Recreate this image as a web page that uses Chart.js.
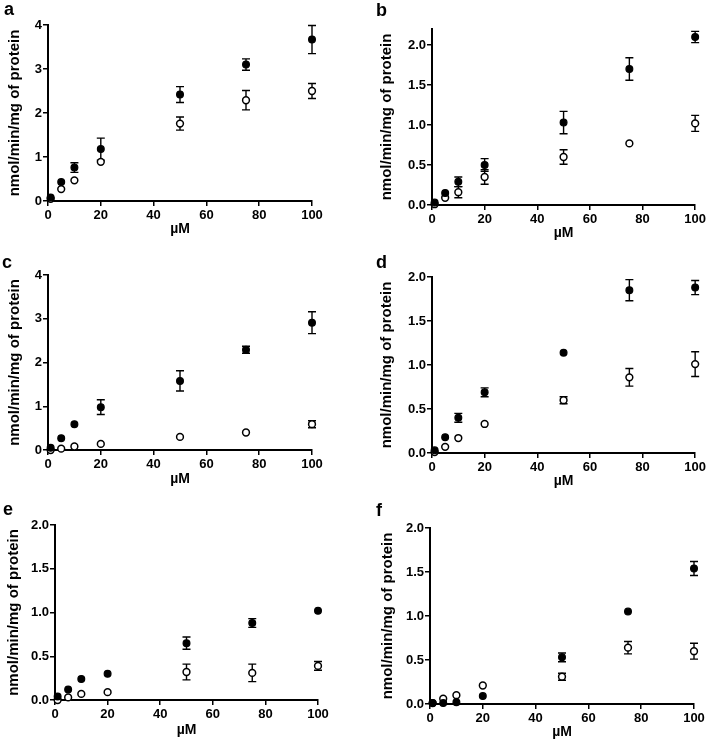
<!DOCTYPE html>
<html>
<head>
<meta charset="utf-8">
<script src="https://cdn.jsdelivr.net/npm/chart.js@4.4.1/dist/chart.umd.min.js"></script>
<style>
  body { margin: 0; width: 708px; height: 749px; overflow: hidden; background: #fff; position: relative;
         font-family: "Liberation Sans", Arial, sans-serif; }
  .panel { position: absolute; width: 354px; height: 250px; }
  .letter { position: absolute; font-weight: bold; font-size: 18px; line-height: 18px; }
</style>
</head>
<body>
<div class="panel" style="left:0;top:0"><canvas id="chartA"></canvas></div>
<div class="panel" style="left:354px;top:0"><canvas id="chartB"></canvas></div>
<div class="panel" style="left:0;top:250px"><canvas id="chartC"></canvas></div>
<div class="panel" style="left:354px;top:250px"><canvas id="chartD"></canvas></div>
<div class="panel" style="left:0;top:500px"><canvas id="chartE"></canvas></div>
<div class="panel" style="left:354px;top:500px"><canvas id="chartF"></canvas></div>
<div class="letter" style="left:4px;top:0">a</div>
<div class="letter" style="left:376px;top:1px">b</div>
<div class="letter" style="left:2px;top:253px">c</div>
<div class="letter" style="left:376px;top:253px">d</div>
<div class="letter" style="left:3px;top:500px">e</div>
<div class="letter" style="left:376px;top:501px">f</div>
<script>
// substrate concentration (µM), same for every panel
const conc = [1, 5, 10, 20, 50, 75, 100];
const xTicks = [0, 20, 40, 60, 80, 100];

// panel a
const aFilled = [0.08, 0.43, 0.76, 1.18, 2.42, 3.10, 3.67];
const aFilledErr = [0, 0, 0.11, 0.25, 0.18, 0.13, 0.32];
const aOpen = [0.05, 0.27, 0.47, 0.89, 1.76, 2.29, 2.50];
const aOpenErr = [0, 0, 0, 0, 0.15, 0.22, 0.17];
const aTicks = [0, 1, 2, 3, 4];

// panel b
const bFilled = [0.03, 0.15, 0.29, 0.50, 1.03, 1.70, 2.10];
const bFilledErr = [0, 0, 0.06, 0.08, 0.14, 0.14, 0.07];
const bOpen = [0.01, 0.09, 0.16, 0.35, 0.60, 0.77, 1.02];
const bOpenErr = [0, 0, 0.07, 0.09, 0.09, 0, 0.10];
const bTicks = [0, 0.5, 1.0, 1.5, 2.0];

// panel c
const cFilled = [0.05, 0.27, 0.59, 0.98, 1.58, 2.29, 2.91];
const cFilledErr = [0, 0, 0, 0.17, 0.23, 0.08, 0.25];
const cOpen = [0.0, 0.03, 0.08, 0.14, 0.30, 0.40, 0.59];
const cOpenErr = [0, 0, 0, 0, 0, 0, 0.08];
const cTicks = [0, 1, 2, 3, 4];

// panel d
const dFilled = [0.03, 0.18, 0.40, 0.69, 1.14, 1.85, 1.88];
const dFilledErr = [0, 0, 0.05, 0.05, 0, 0.12, 0.08];
const dOpen = [0.01, 0.07, 0.17, 0.33, 0.60, 0.86, 1.01];
const dOpenErr = [0, 0, 0, 0, 0.04, 0.10, 0.14];
const dTicks = [0, 0.5, 1.0, 1.5, 2.0];

// panel e
const eFilled = [0.04, 0.12, 0.24, 0.30, 0.65, 0.88, 1.02];
const eFilledErr = [0, 0, 0, 0, 0.07, 0.05, 0];
const eOpen = [0.0, 0.03, 0.07, 0.09, 0.32, 0.31, 0.39];
const eOpenErr = [0, 0, 0, 0, 0.09, 0.10, 0.05];
const eTicks = [0, 0.5, 1.0, 1.5, 2.0];

// panel f
const fFilled = [0.01, 0.01, 0.02, 0.09, 0.53, 1.05, 1.54];
const fFilledErr = [0, 0, 0, 0, 0.05, 0, 0.08];
const fOpen = [0.01, 0.06, 0.10, 0.21, 0.31, 0.64, 0.60];
const fOpenErr = [0, 0, 0, 0, 0.04, 0.07, 0.09];
const fTicks = [0, 0.5, 1.0, 1.5, 2.0];

const yTitle = 'nmol/min/mg of protein';
const xTitle = 'µM';
const FONT = '"Liberation Sans", Arial, sans-serif';

// plot-area box inside each 354x250 canvas (left, right, top, bottom) + title positions
const boxes = {
  A: { l: 48, r: 312, t: 25, b: 201, ytx: 15, xty: 229, yMax: 4 },
  B: { l: 78, r: 342, t: 29, b: 205, ytx: 33, xty: 233, yMax: 2.2 },
  C: { l: 48, r: 312, t: 25, b: 200, ytx: 15, xty: 229, yMax: 4 },
  D: { l: 78, r: 342, t: 27, b: 203, ytx: 33, xty: 231, yMax: 2 },
  E: { l: 55, r: 318, t: 25, b: 200, ytx: 14, xty: 230, yMax: 2 },
  F: { l: 76, r: 340, t: 28, b: 204, ytx: 34, xty: 232, yMax: 2 }
};

// draws vertical error bars with caps, under the points
const errorBars = {
  id: 'errorBars',
  beforeDatasetsDraw(chart) {
    const ctx = chart.ctx;
    const xs = chart.scales.x, ys = chart.scales.y;
    ctx.save();
    ctx.strokeStyle = '#000';
    ctx.lineWidth = 1.4;
    chart.data.datasets.forEach(ds => {
      ds.errors.forEach((e, i) => {
        if (!e) return;
        const p = ds.data[i];
        const px = xs.getPixelForValue(p.x);
        const top = ys.getPixelForValue(p.y + e);
        const bot = ys.getPixelForValue(p.y - e);
        ctx.beginPath();
        ctx.moveTo(px, top); ctx.lineTo(px, bot);
        ctx.moveTo(px - 4, top); ctx.lineTo(px + 4, top);
        ctx.moveTo(px - 4, bot); ctx.lineTo(px + 4, bot);
        ctx.stroke();
      });
    });
    ctx.restore();
  }
};

function toPoints(vals) {
  return vals.map((v, i) => ({ x: conc[i], y: v }));
}

function makeChart(key, filled, filledErr, open, openErr, yTicks, decimals) {
  const bx = boxes[key];
  const yTitleFont = 15, xTitleFont = 14;
  const padLeft = bx.ytx - yTitleFont * 1.2 / 2;
  const xBottom = bx.xty + xTitleFont * 1.2 / 2;
  const axisLine = { color: '#000', width: 2 };
  const tickGrid = { drawOnChartArea: false, drawTicks: true, tickLength: 5, color: '#000', lineWidth: 1.5 };
  const tickFont = { family: FONT, size: 13, weight: 'bold' };

  return new Chart(document.getElementById('chart' + key), {
    type: 'scatter',
    data: {
      datasets: [
        { data: toPoints(filled), errors: filledErr, pointRadius: 3.4, pointHoverRadius: 3.4,
          backgroundColor: '#000', borderColor: '#000', borderWidth: 1.2, clip: false },
        { data: toPoints(open), errors: openErr, pointRadius: 3.4, pointHoverRadius: 3.4,
          backgroundColor: '#fff', borderColor: '#000', borderWidth: 1.5, clip: false }
      ]
    },
    options: {
      responsive: false,
      animation: false,
      events: [],
      layout: { padding: { left: padLeft, right: 354 - bx.r, top: bx.t, bottom: 250 - xBottom } },
      plugins: { legend: { display: false }, tooltip: { enabled: false } },
      scales: {
        x: {
          type: 'linear', min: 0, max: 100,
          border: axisLine, grid: tickGrid,
          afterBuildTicks: s => { s.ticks = xTicks.map(v => ({ value: v })); },
          afterFit: s => { s.height = xBottom - bx.b; },
          ticks: { color: '#000', font: tickFont, padding: 2, maxRotation: 0 },
          title: { display: true, text: xTitle, color: '#000', padding: 0,
                   font: { family: FONT, size: xTitleFont, weight: 'bold' } }
        },
        y: {
          type: 'linear', min: 0, max: bx.yMax,
          border: axisLine, grid: tickGrid,
          afterBuildTicks: s => { s.ticks = yTicks.map(v => ({ value: v })); },
          afterFit: s => { s.width = bx.l - padLeft; },
          ticks: { color: '#000', font: tickFont, padding: 1,
                   callback: v => v.toFixed(decimals) },
          title: { display: true, text: yTitle, color: '#000', padding: 0,
                   font: { family: FONT, size: yTitleFont, weight: 'bold' } }
        }
      }
    },
    plugins: [errorBars]
  });
}

function setup(key) {
  const c = document.getElementById('chart' + key);
  c.width = 354; c.height = 250;
  c.style.width = '354px'; c.style.height = '250px';
}
['A', 'B', 'C', 'D', 'E', 'F'].forEach(setup);

makeChart('A', aFilled, aFilledErr, aOpen, aOpenErr, aTicks, 0);
makeChart('B', bFilled, bFilledErr, bOpen, bOpenErr, bTicks, 1);
makeChart('C', cFilled, cFilledErr, cOpen, cOpenErr, cTicks, 0);
makeChart('D', dFilled, dFilledErr, dOpen, dOpenErr, dTicks, 1);
makeChart('E', eFilled, eFilledErr, eOpen, eOpenErr, eTicks, 1);
makeChart('F', fFilled, fFilledErr, fOpen, fOpenErr, fTicks, 1);
</script>
</body>
</html>
